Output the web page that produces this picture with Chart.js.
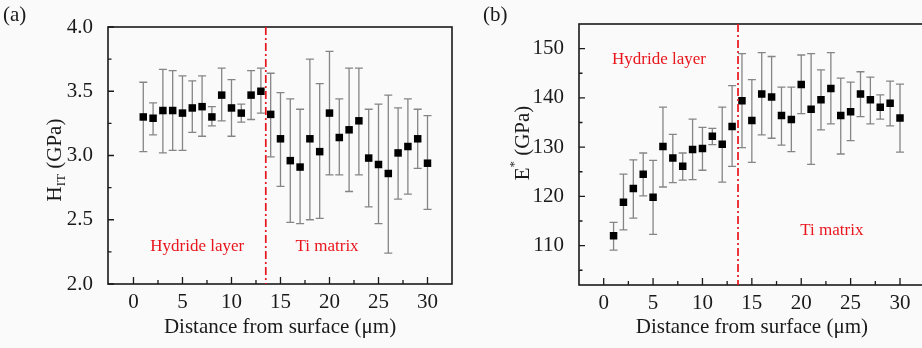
<!DOCTYPE html>
<html>
<head>
<meta charset="utf-8">
<script src="https://cdn.jsdelivr.net/npm/chart.js@4.4.0/dist/chart.umd.min.js"></script>
<style>
  html, body { margin: 0; padding: 0; width: 922px; height: 348px; overflow: hidden; background: #fafafa; }
  .panel { position: absolute; top: 0; }
</style>
</head>
<body>
<div class="panel" style="left:0"><canvas id="hardness" width="460" height="348"></canvas></div>
<div class="panel" style="left:460px"><canvas id="modulus" width="470" height="348"></canvas></div>
<script>
// measurement positions (um)
const distance = [1,2,3,4,5,6,7,8,9,10,11,12,13,14,15,16,17,18,19,20,21,22,23,24,25,26,27,28,29,30];

// (a) indentation hardness H_IT, GPa
const hardness       = [3.30,3.29,3.35,3.35,3.33,3.37,3.38,3.30,3.47,3.37,3.33,3.47,3.50,3.32,3.13,2.96,2.91,3.13,3.03,3.33,3.14,3.20,3.27,2.98,2.93,2.86,3.02,3.07,3.13,2.94];
const hardnessTop    = [3.57,3.41,3.67,3.66,3.62,3.58,3.62,3.38,3.68,3.59,3.40,3.66,3.68,3.64,3.49,3.44,3.36,3.75,3.56,3.81,3.44,3.68,3.68,3.36,3.40,3.47,3.37,3.44,3.36,3.31];
const hardnessBottom = [3.03,3.16,3.02,3.04,3.04,3.18,3.15,3.23,3.27,3.15,3.26,3.28,3.33,2.99,2.76,2.48,2.47,2.50,2.51,2.85,2.85,2.72,2.85,2.60,2.47,2.24,2.66,2.70,2.90,2.58];

// (b) reduced modulus E*, GPa
const modulus       = [112.0,118.8,121.6,124.5,119.8,130.1,127.8,126.1,129.5,129.7,132.2,130.6,134.2,139.4,135.4,140.8,140.2,136.4,135.6,142.7,137.7,139.6,141.9,136.4,137.2,140.8,139.6,138.1,138.9,135.9];
const modulusTop    = [114.7,124.5,127.4,128.8,127.3,138.1,132.6,128.8,135.7,134.0,133.8,138.1,142.5,149.0,143.7,149.2,148.4,142.2,142.2,148.7,149.0,145.7,149.2,144.0,143.2,145.3,144.2,140.6,143.4,142.8];
const modulusBottom = [109.1,113.2,115.6,120.1,112.3,121.9,122.8,123.3,123.4,125.3,130.5,122.9,126.1,129.9,126.9,132.5,131.8,130.4,129.1,136.8,126.5,133.5,134.7,128.6,131.3,136.2,134.7,135.7,134.3,129.0];

const xTicks = [0,5,10,15,20,25,30];
const hardnessTicks = [2.0,2.5,3.0,3.5,4.0];
const modulusTicks = [110,120,130,140,150];

const SERIF = "'Liberation Serif', 'Times New Roman', serif";
const INK = '#1a1a1a';
const RED = '#e8151c';

const figPlugin = {
  id: 'fig',
  beforeDatasetsDraw(chart, args, o) {
    const ctx = chart.ctx, xs = chart.scales.x, ys = chart.scales.y;
    ctx.save();
    ctx.strokeStyle = '#858585';
    ctx.lineWidth = 1.3;
    distance.forEach((d, i) => {
      const px = xs.getPixelForValue(d);
      const pt = ys.getPixelForValue(o.top[i]);
      const pb = ys.getPixelForValue(o.bottom[i]);
      ctx.beginPath();
      ctx.moveTo(px, pt); ctx.lineTo(px, pb);
      ctx.moveTo(px - 4, pt); ctx.lineTo(px + 4, pt);
      ctx.moveTo(px - 4, pb); ctx.lineTo(px + 4, pb);
      ctx.stroke();
    });
    ctx.restore();
  },
  afterDraw(chart, args, o) {
    const ctx = chart.ctx, a = chart.chartArea;
    const xs = chart.scales.x, ys = chart.scales.y;
    ctx.save();
    // frame
    ctx.strokeStyle = INK;
    ctx.lineWidth = 1.6;
    ctx.strokeRect(a.left, a.top, a.right - a.left, a.bottom - a.top);

    // inward ticks
    ctx.lineWidth = 1.3;
    ctx.beginPath();
    xTicks.forEach(v => {
      const p = xs.getPixelForValue(v);
      ctx.moveTo(p, a.bottom); ctx.lineTo(p, a.bottom - 7);
      const m = xs.getPixelForValue(v + 2.5);
      if (v + 2.5 < xs.max) { ctx.moveTo(m, a.bottom); ctx.lineTo(m, a.bottom - 4); }
    });
    const yt = o.yTicks, step = yt[1] - yt[0];
    yt.forEach(v => {
      const p = ys.getPixelForValue(v);
      ctx.moveTo(a.left, p); ctx.lineTo(a.left + 6, p);
    });
    [yt[0] - step / 2].concat(yt.map(v => v + step / 2)).forEach(v => {
      if (v <= ys.min || v >= ys.max) return;
      const p = ys.getPixelForValue(v);
      ctx.moveTo(a.left, p); ctx.lineTo(a.left + 3.5, p);
    });
    ctx.stroke();

    // boundary between hydride layer and matrix
    const bx = xs.getPixelForValue(o.boundary);
    ctx.strokeStyle = RED;
    ctx.lineWidth = 1.7;
    ctx.setLineDash([8, 3, 2, 3]);
    ctx.beginPath();
    ctx.moveTo(bx, a.top); ctx.lineTo(bx, a.bottom);
    ctx.stroke();
    ctx.setLineDash([]);

    // region notes
    ctx.fillStyle = RED;
    ctx.font = '17px ' + SERIF;
    ctx.textAlign = 'center';
    ctx.textBaseline = 'middle';
    o.notes.forEach(n => {
      ctx.fillText(n.text, xs.getPixelForValue(n.x), ys.getPixelForValue(n.y));
    });

    // panel letter
    ctx.fillStyle = INK;
    ctx.font = '21px ' + SERIF;
    ctx.textAlign = 'left';
    ctx.fillText(o.panel, o.panelX, 15);

    // rotated y title with sub/superscript
    ctx.translate(o.titleX, o.titleY);
    ctx.rotate(-Math.PI / 2);
    ctx.textBaseline = 'alphabetic';
    const big = '21px ' + SERIF, small = '13px ' + SERIF;
    ctx.font = big; const w1 = ctx.measureText(o.yMain).width;
    ctx.font = small; const w2 = ctx.measureText(o.yScript).width;
    ctx.font = big; const w3 = ctx.measureText(o.yUnit).width;
    let x0 = -(w1 + w2 + w3) / 2;
    ctx.font = big; ctx.fillText(o.yMain, x0, 7); x0 += w1;
    ctx.font = small; ctx.fillText(o.yScript, x0, o.sub ? 11 : -4); x0 += w2;
    ctx.font = big; ctx.fillText(o.yUnit, x0, 7);
    ctx.restore();
  }
};

function makeChart(id, values, top, bottom, cfg) {
  return new Chart(document.getElementById(id), {
    type: 'scatter',
    data: {
      datasets: [{
        data: distance.map((d, i) => ({ x: d, y: values[i] })),
        pointStyle: 'rect',
        pointRadius: 5.3,
        pointHoverRadius: 5.3,
        backgroundColor: '#000',
        borderWidth: 0
      }]
    },
    options: {
      responsive: false,
      animation: false,
      events: [],
      layout: { padding: { left: 0, top: cfg.padTop, right: cfg.padRight, bottom: 0 } },
      plugins: {
        legend: { display: false },
        tooltip: { enabled: false },
        fig: Object.assign({ top: top, bottom: bottom }, cfg.fig)
      },
      scales: {
        x: {
          type: 'linear',
          min: cfg.xMin, max: cfg.xMax,
          afterBuildTicks: s => { s.ticks = xTicks.map(v => ({ value: v })); },
          afterFit: s => { s.height = cfg.xHeight; },
          grid: { display: false },
          border: { display: false },
          ticks: { color: INK, padding: -2, font: { family: SERIF, size: 21 } },
          title: {
            display: true,
            text: 'Distance from surface (\u03bcm)',
            color: INK,
            padding: { top: 0, bottom: 8 },
            font: { family: SERIF, size: 21 }
          }
        },
        y: {
          min: cfg.yMin, max: cfg.yMax,
          afterBuildTicks: s => { s.ticks = cfg.fig.yTicks.map(v => ({ value: v })); },
          afterFit: s => { s.width = cfg.yWidth; },
          grid: { display: false },
          border: { display: false },
          ticks: {
            color: INK, padding: 7,
            font: { family: SERIF, size: 21 },
            callback: v => cfg.decimals ? v.toFixed(cfg.decimals) : String(v)
          }
        }
      }
    },
    plugins: [figPlugin]
  });
}

makeChart('hardness', hardness, hardnessTop, hardnessBottom, {
  padTop: 27, padRight: 8, xHeight: 64, yWidth: 108,
  xMin: -2.6, xMax: 32.5, yMin: 2.0, yMax: 4.0, decimals: 1,
  fig: {
    yTicks: hardnessTicks, boundary: 13.5,
    notes: [{ text: 'Hydride layer', x: 6.5, y: 2.29 }, { text: 'Ti matrix', x: 19.75, y: 2.29 }],
    panel: '(a)', panelX: 3,
    titleX: 54, titleY: 160, yMain: 'H', yScript: 'IT', yUnit: ' (GPa)', sub: true
  }
});

makeChart('modulus', modulus, modulusTop, modulusBottom, {
  padTop: 24, padRight: 3, xHeight: 63, yWidth: 119,
  xMin: -2.5, xMax: 32.5, yMin: 102, yMax: 155, decimals: 0,
  fig: {
    yTicks: modulusTicks, boundary: 13.6,
    notes: [{ text: 'Hydride layer', x: 5.6, y: 147.8 }, { text: 'Ti matrix', x: 23.1, y: 113.0 }],
    panel: '(b)', panelX: 23,
    titleX: 62, titleY: 143, yMain: 'E', yScript: '*', yUnit: ' (GPa)', sub: false
  }
});
</script>
</body>
</html>
